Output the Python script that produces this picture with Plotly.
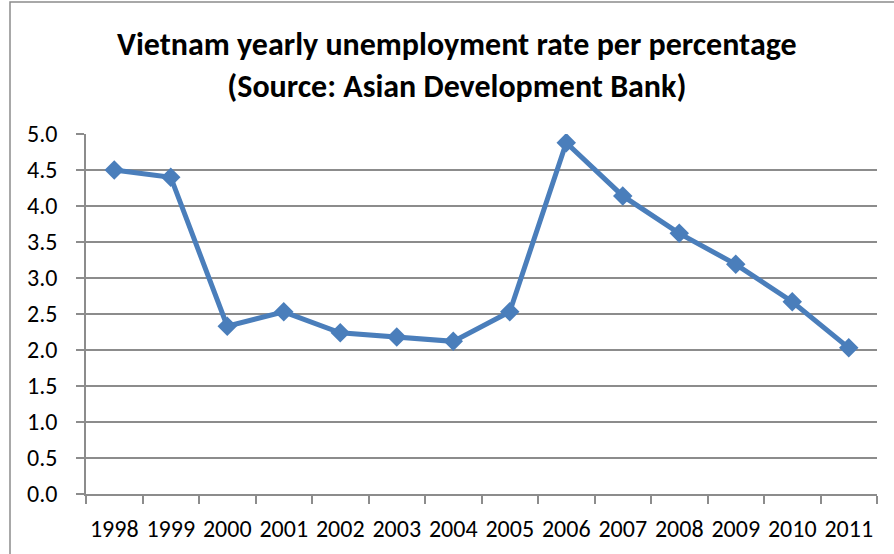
import plotly.graph_objects as go

years = ["1998", "1999", "2000", "2001", "2002", "2003", "2004",
         "2005", "2006", "2007", "2008", "2009", "2010", "2011"]
rates = [4.50, 4.40, 2.33, 2.53, 2.24, 2.18, 2.12,
         2.53, 4.88, 4.14, 3.62, 3.19, 2.67, 2.03]
y_ticks = [0.0, 0.5, 1.0, 1.5, 2.0, 2.5, 3.0, 3.5, 4.0, 4.5, 5.0]

FONT = "Calibri, Carlito, Lato, sans-serif"
GRID = "#8c8c8c"
BLUE = "#4A7EBB"

fig = go.Figure()
fig.add_trace(go.Scatter(
    x=years, y=rates, mode="lines+markers",
    line=dict(color=BLUE, width=5),
    marker=dict(symbol="diamond", size=15, color=BLUE),
    showlegend=False, hoverinfo="x+y",
))

L, R, T, B = 86, 17, 134, 60
W, H = 894, 554
pw, ph = W - L - R, H - T - B

fig.update_layout(
    width=W, height=H,
    margin=dict(l=L, r=R, t=T, b=B, autoexpand=False),
    paper_bgcolor="white", plot_bgcolor="white",
    font=dict(family=FONT, size=24, color="black"),
    title=dict(
        text="Vietnam yearly unemployment rate per percentage<br>(Source: Asian Development Bank)",
        x=0.511, xanchor="center", y=0.9, yanchor="middle",
        font=dict(family=FONT, size=32, color="black", weight="bold"),
    ),
    xaxis=dict(
        type="category", tickson="boundaries", ticks="outside", ticklen=8,
        tickcolor=GRID, tickwidth=1.5, showgrid=False,
        showline=True, linecolor=GRID, linewidth=1.5,
        tickfont=dict(family=FONT, size=24, color="black"),
        tickangle=0, automargin=False,
        ticklabelstandoff=12,
        range=[-0.5, len(years) - 0.5],
    ),
    yaxis=dict(
        range=[0, 5], tickvals=y_ticks, tickformat=".1f",
        ticks="outside", ticklen=8, tickcolor=GRID, tickwidth=1.5,
        showgrid=True, gridcolor=GRID, gridwidth=1.5,
        showline=True, linecolor=GRID, linewidth=1.5,
        zeroline=False, automargin=False,
        ticklabelstandoff=14,
        tickfont=dict(family=FONT, size=24, color="black"),
    ),
    shapes=[dict(
        type="rect", xref="paper", yref="paper",
        x0=(10 - L) / pw, x1=(W + 10 - L) / pw,
        y0=-(H + 10 - (H - B)) / ph, y1=1 + (T - 2) / ph,
        line=dict(color="#8c8c8c", width=1.5), fillcolor="rgba(0,0,0,0)",
        layer="below",
    )],
)

fig.write_html("out.html")
